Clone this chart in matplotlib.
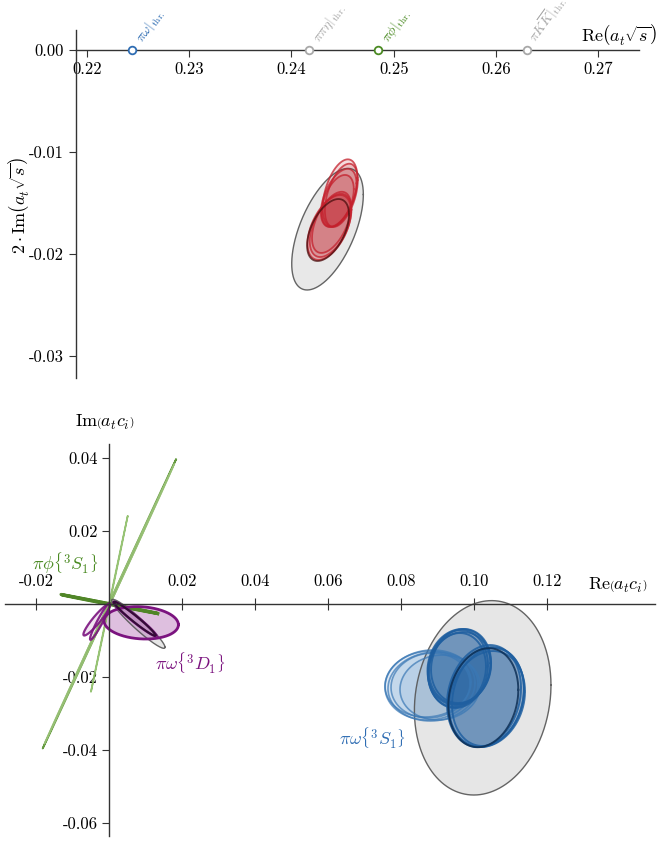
import numpy as np
import matplotlib
matplotlib.use('Agg')
import matplotlib.pyplot as plt

plt.rcParams['font.family'] = ['cmr10', 'DejaVu Serif']
plt.rcParams['mathtext.fontset'] = 'cm'
plt.rcParams['axes.unicode_minus'] = False
plt.rcParams['axes.formatter.use_mathtext'] = True

# ---- top panel: pole positions ----
thr_x = [0.22441, 0.24176, 0.24843, 0.26299]
thr_lab = [r'$\pi\omega|_{\mathrm{thr.}}$', r'$\pi\pi\eta|_{\mathrm{thr.}}$',
           r'$\pi\phi|_{\mathrm{thr.}}$', r'$\pi K\overline{K}|_{\mathrm{thr.}}$']
thr_col = ['#2f6db3', '#a8a8a8', '#4a8a22', '#a8a8a8']

# cx, cy, sx, sy, rho
pole_grey = [0.24353, -0.01757, 0.00350, 0.00596, 0.57]
pole_cx = [0.24475, 0.24488, 0.24462, 0.24453, 0.24392, 0.24370, 0.24383, 0.24358]
pole_cy = [-0.01402, -0.01425, -0.01450, -0.01480, -0.01690, -0.01740, -0.01720, -0.01765]
pole_sx = [0.00170, 0.00161, 0.00174, 0.00157, 0.00191, 0.00213, 0.00204, 0.00205]
pole_sy = [0.00330, 0.00310, 0.00285, 0.00255, 0.00300, 0.00318, 0.00310, 0.00304]
pole_rho = [0.45, 0.48, 0.50, 0.45, 0.52, 0.50, 0.50, 0.50]

xt_top = [0.22, 0.23, 0.24, 0.25, 0.26, 0.27]
yt_top = [0.0, -0.01, -0.02, -0.03]

# ---- bottom panel: couplings ----
cpl_grey = [0.1023, -0.0257, 0.01871, 0.02663, 0.13]
wA_cx = [0.08786, 0.08868, 0.08800, 0.09060, 0.08732]
wA_cy = [-0.02219, -0.02260, -0.02233, -0.02288, -0.02192]
wA_sx = [0.01233, 0.01233, 0.01082, 0.01096, 0.01178]
wA_sy = [0.00959, 0.00945, 0.00890, 0.00890, 0.00904]
wB_cx = [0.09581, 0.09553, 0.09608, 0.09526, 0.09636]
wB_cy = [-0.01726, -0.01781, -0.01753, -0.01808, -0.01699]
wB_sx = [0.00863, 0.00822, 0.00849, 0.00795, 0.00822]
wB_sy = [0.01041, 0.01068, 0.00986, 0.01014, 0.01014]
wC_cx = [0.10321, 0.10348, 0.10266, 0.10375, 0.10247]
wC_cy = [-0.02548, -0.02603, -0.02521, -0.02548, -0.02567]
wC_sx = [0.01041, 0.01041, 0.01014, 0.00986, 0.00959]
wC_sy = [0.01370, 0.01315, 0.01397, 0.01342, 0.01356]

d_big = [0.00874, -0.00515, 0.01019, 0.00444, -0.12]
d_thin = [[-0.00345, -0.00430, 0.00365, 0.00433, 0.93],
          [-0.00255, -0.00480, 0.00274, 0.00502, 0.95],
          [0.00704, -0.00411, 0.00594, 0.00479, -0.97],
          [0.00690, -0.00400, 0.00570, 0.00465, -0.975]]
d_grey = [0.00795, -0.00543, 0.00731, 0.00671, -0.955]

phi_ell = [[0.0, 0.0, 0.01826, 0.03959, 0.99995],
           [0.0, 0.0, 0.01780, 0.03830, 0.99990],
           [0.0, 0.0, 0.00503, 0.02407, 0.99990],
           [0.0, 0.0, 0.01325, 0.00264, -0.9995],
           [0.0, 0.0, 0.01300, 0.00250, -0.9990]]
phi_col = ['#558f2c', '#9cc47a', '#8cbd66', '#4f8526', '#4f8526']
phi_lw = [1.3, 1.0, 1.2, 2.2, 2.2]

xt_bot = [-0.02, 0.02, 0.04, 0.06, 0.08, 0.10, 0.12]
yt_bot = [0.04, 0.02, -0.02, -0.04, -0.06]


def ell(ax, e, fc, ec, fa, ea, lw):
    cx, cy, sx, sy, rho = e
    t = np.linspace(0, 2 * np.pi, 400)
    x = cx + sx * np.cos(t)
    y = cy + sy * (rho * np.cos(t) + np.sqrt(1 - rho ** 2) * np.sin(t))
    if fc is not None:
        ax.fill(x, y, color=fc, alpha=fa, lw=0)
    ax.plot(x, y, color=ec, alpha=ea, lw=lw)


fig = plt.figure(figsize=(6.58, 8.41), dpi=100)

# top axes
ax1 = fig.add_axes([76 / 658, 1 - 378 / 841, 563 / 658, 348 / 841])
ax1.set_xlim(0.21894, 0.27398)
ax1.set_ylim(-0.03216, 0.00196)
ax1.spines['bottom'].set_position(('data', 0))
ax1.spines['top'].set_visible(False)
ax1.spines['right'].set_visible(False)
for s in ['bottom', 'left']:
    ax1.spines[s].set_color('#333333')
    ax1.spines[s].set_linewidth(1.0)
ax1.set_xticks(xt_top)
ax1.set_xticklabels(['%.2f' % v for v in xt_top])
ax1.set_yticks(yt_top)
ax1.set_yticklabels(['0.00', '-0.01', '-0.02', '-0.03'])
ax1.tick_params(direction='out', length=5, labelsize=12, color='#333333')

ell(ax1, pole_grey, '#d9d9d9', '#555555', 0.6, 0.9, 1.0)
for i in range(len(pole_cx)):
    e = [pole_cx[i], pole_cy[i], pole_sx[i], pole_sy[i], pole_rho[i]]
    ec = '#4a0d0d' if i == len(pole_cx) - 1 else '#c4202c'
    ell(ax1, e, '#c4202c', ec, 0.16, 0.75, 1.3)

for x, lab, c in zip(thr_x, thr_lab, thr_col):
    ax1.plot(x, 0, 'o', ms=5.5, mfc='white', mec=c, mew=1.3, zorder=5, clip_on=False)
    ax1.annotate(lab, (x, 0), xytext=(10, 3), textcoords='offset points',
                 rotation=54, ha='left', va='bottom', rotation_mode='anchor',
                 fontsize=10, color=c, annotation_clip=False)

ax1.text(0.9645, 0.986, r'$\mathrm{Re}\left(a_t\sqrt{s}\right)$', transform=ax1.transAxes,
         ha='center', va='center', fontsize=13)
ax1.set_ylabel(r'$2\cdot\mathrm{Im}\left(a_t\sqrt{s}\right)$', fontsize=13)
ax1.yaxis.set_label_coords(-0.08, 0.497)

# bottom axes
ax2 = fig.add_axes([5 / 658, 5 / 841, 650 / 658, 392 / 841])
ax2.set_xlim(-0.02858, 0.14951)
ax2.set_ylim(-0.06356, 0.04384)
ax2.spines['left'].set_position(('data', 0))
ax2.spines['top'].set_position(('data', 0))
ax2.spines['bottom'].set_visible(False)
ax2.spines['right'].set_visible(False)
for s in ['top', 'left']:
    ax2.spines[s].set_color('#333333')
    ax2.spines[s].set_linewidth(1.0)
ax2.xaxis.set_ticks_position('top')
ax2.set_xticks(xt_bot)
ax2.set_xticklabels(['%.2f' % v for v in xt_bot])
ax2.set_yticks(yt_bot)
ax2.set_yticklabels(['%.2f' % v for v in yt_bot])
ax2.tick_params(axis='x', direction='inout', length=9, labelsize=12, color='#333333', pad=6)
ax2.tick_params(axis='y', direction='out', length=5, labelsize=12, color='#333333')

ell(ax2, cpl_grey, '#d6d6d6', '#555555', 0.6, 0.9, 1.0)
for i in range(len(wA_cx)):
    ell(ax2, [wA_cx[i], wA_cy[i], wA_sx[i], wA_sy[i], 0.06], '#5b93c8', '#3a78b5', 0.1, 0.7, 1.2)
for i in range(len(wB_cx)):
    ell(ax2, [wB_cx[i], wB_cy[i], wB_sx[i], wB_sy[i], 0.1], '#1f5fa0', '#1f5fa0', 0.16, 0.85, 1.4)
for i in range(len(wC_cx)):
    ec = '#0d2f55' if i == len(wC_cx) - 1 else '#1f5fa0'
    ell(ax2, [wC_cx[i], wC_cy[i], wC_sx[i], wC_sy[i], 0.16], '#1f5fa0', ec, 0.16, 0.85, 1.4)

for e, c, w in zip(phi_ell, phi_col, phi_lw):
    ell(ax2, e, None, c, 1.0, 0.9, w)

ell(ax2, d_grey, '#d6d6d6', '#555555', 0.6, 0.9, 1.0)
ell(ax2, d_big, '#a24aa6', '#7b137f', 0.35, 1.0, 2.0)
for i, e in enumerate(d_thin):
    ec = '#2d0830' if i == 3 else '#7b137f'
    ell(ax2, e, '#a24aa6', ec, 0.15, 0.9, 1.6)

ax2.text(-0.0121, 0.0112, r'$\pi\phi\left\{{}^3S_1\right\}$', color='#4a8a22',
         fontsize=13, ha='center', va='center')
ax2.text(0.0221, -0.0159, r'$\pi\omega\left\{{}^3D_1\right\}$', color='#7b137f',
         fontsize=13, ha='center', va='center')
ax2.text(0.0720, -0.0367, r'$\pi\omega\left\{{}^3S_1\right\}$', color='#2f6db3',
         fontsize=13, ha='center', va='center')

ax2.text(0.943, 0.640, r'$\mathrm{Re}\left(a_t c_i\right)$', transform=ax2.transAxes,
         ha='center', va='center', fontsize=13)
ax2.text(0.154, 1.056, r'$\mathrm{Im}\left(a_t c_i\right)$', transform=ax2.transAxes,
         ha='center', va='center', fontsize=13)

fig.savefig('out.png', dpi=100)
